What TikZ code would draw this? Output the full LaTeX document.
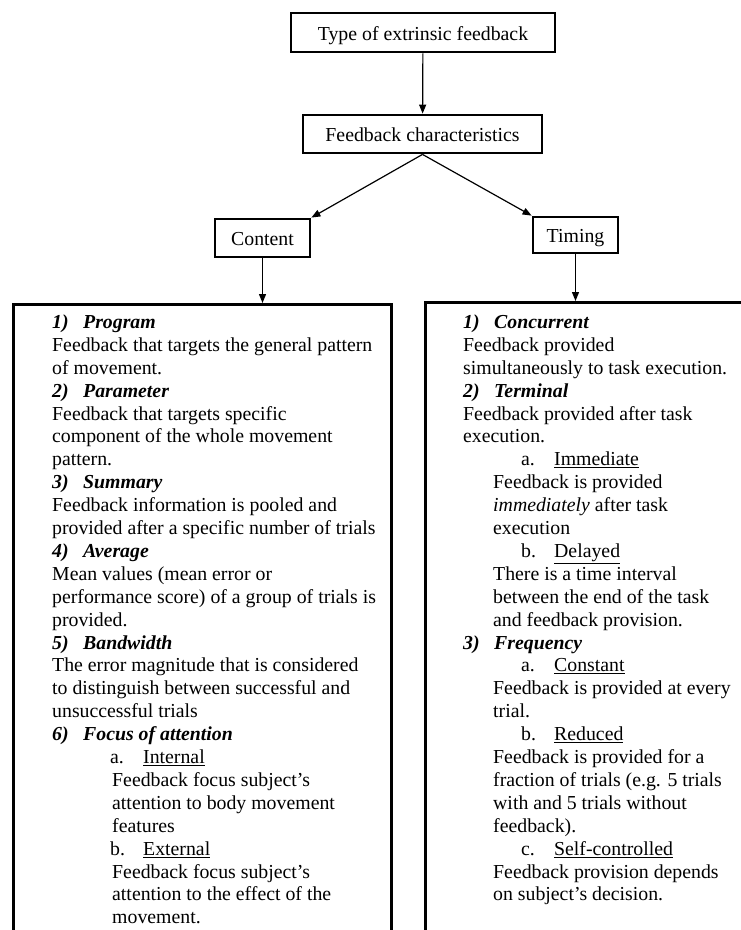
\documentclass[tikz,border=0pt]{standalone}
\usepackage{fontspec}
\setmainfont{Liberation Serif}
\usetikzlibrary{arrows.meta,positioning}

\newcommand{\itemhead}[2]{\makebox[31pt][l]{\textbf{\textit{#1}}}\textbf{\textit{#2}}}
\newcommand{\subhead}[2]{\hspace*{58pt}\makebox[33pt][l]{#1}\underline{#2}}

\begin{document}
\begin{tikzpicture}[x=1pt, y=-1pt,
    every node/.style={font=\fontsize{19.8}{22.9}\selectfont},
    catbox/.style={draw, line width=2.8pt, inner sep=0pt, text height=15pt, text depth=0pt},
    bigbox/.style={draw, line width=3pt, anchor=north west, inner sep=0pt},
    listtext/.style={anchor=north west, align=left, inner sep=0pt},
    arr/.style={-{Triangle[length=9pt,width=7pt]}, line width=1.2pt}]
  \path[use as bounding box] (0,0) rectangle (741,930);
  \clip (0,0) rectangle (741,930);
  % top of the tree
  \node[catbox, minimum width=264pt, minimum height=39pt] (type) at (423,32.5) {Type of extrinsic feedback};
  \node[catbox, minimum width=239pt, minimum height=38pt] (chars) at (422.5,134) {Feedback characteristics};
  \node[catbox, minimum width=95pt, minimum height=38pt] (content) at (262.5,238) {Content};
  \node[catbox, minimum width=85pt, minimum height=36pt] (timing) at (575.5,235) {Timing};
  \draw[arr] (type) -- (chars);
  \draw[arr] (chars.south) -- (content.north east);
  \draw[arr] (chars.south) -- (timing.north west);
  % the two lists
  \node[bigbox, minimum width=378.5pt, minimum height=660pt] (contentbox) at (11.5,303) {};
  \node[bigbox, minimum width=340pt, minimum height=660pt] (timingbox) at (423.5,301) {};
  \draw[arr] (content.south) -- (content.south |- contentbox.north);
  \draw[arr] (timing.south) -- (timing.south |- timingbox.north);
  \node[listtext] (contentlist) at (52,314.5) {%
    \itemhead{1)}{Program}\\
    Feedback that targets the general pattern\\
    of movement.\\
    \itemhead{2)}{Parameter}\\
    Feedback that targets specific\\
    component of the whole movement\\
    pattern.\\
    \itemhead{3)}{Summary}\\
    Feedback information is pooled and\\
    provided after a specific number of trials\\
    \itemhead{4)}{Average}\\
    Mean values (mean error or\\
    performance score) of a group of trials is\\
    provided.\\
    \itemhead{5)}{Bandwidth}\\
    The error magnitude that is considered\\
    to distinguish between successful and\\
    unsuccessful trials\\
    \itemhead{6)}{Focus of attention}\\
    \subhead{a.}{Internal}\\
    \hspace*{60pt}Feedback focus subject's\\
    \hspace*{60pt}attention to body movement\\
    \hspace*{60pt}features\\
    \subhead{b.}{External}\\
    \hspace*{60pt}Feedback focus subject's\\
    \hspace*{60pt}attention to the effect of the\\
    \hspace*{60pt}movement.};
  \node[listtext] (timinglist) at (463,314.5) {%
    \itemhead{1)}{Concurrent}\\
    Feedback provided\\
    simultaneously to task execution.\\
    \itemhead{2)}{Terminal}\\
    Feedback provided after task\\
    execution.\\
    \subhead{a.}{Immediate}\\
    \hspace*{30pt}Feedback is provided\\
    \hspace*{30pt}\textit{immediately} after task\\
    \hspace*{30pt}execution\\
    \subhead{b.}{Delayed}\\
    \hspace*{30pt}There is a time interval\\
    \hspace*{30pt}between the end of the task\\
    \hspace*{30pt}and feedback provision.\\
    \itemhead{3)}{Frequency}\\
    \subhead{a.}{Constant}\\
    \hspace*{30pt}Feedback is provided at every\\
    \hspace*{30pt}trial.\\
    \subhead{b.}{Reduced}\\
    \hspace*{30pt}Feedback is provided for a\\
    \hspace*{30pt}fraction of trials (e.g. 5 trials\\
    \hspace*{30pt}with and 5 trials without\\
    \hspace*{30pt}feedback).\\
    \subhead{c.}{Self-controlled}\\
    \hspace*{30pt}Feedback provision depends\\
    \hspace*{30pt}on subject's decision.};
\end{tikzpicture}
\end{document}
